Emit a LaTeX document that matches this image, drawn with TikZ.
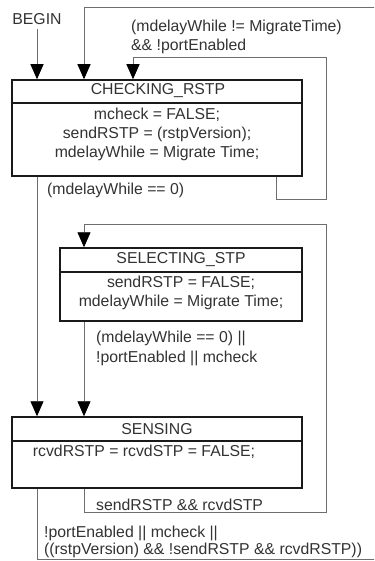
\documentclass[tikz,border=0pt]{standalone}
\usepackage{fontspec}
\setmainfont{Liberation Sans}
\usetikzlibrary{arrows.meta}
\definecolor{txtc}{HTML}{333333}
\definecolor{linec}{HTML}{6E6E6E}
\definecolor{boxc}{HTML}{1A1A1A}
\begin{document}
\begin{tikzpicture}[x=1pt,y=-1pt,
  every node/.style={font=\fontsize{15.8}{19}\selectfont, text=txtc},
  statebox/.style={draw=boxc, line width=1.5pt, inner sep=0pt, rectangle},
  divider/.style={draw=boxc, line width=1.5pt},
  txt/.style={inner sep=0pt},
  lbl/.style={inner sep=0pt, anchor=west, align=left},
  conn/.style={draw=linec, line width=0.9pt},
  arr/.style={conn, -{Triangle[width=13pt,length=15pt,color=black]}}]
\useasboundingbox (0,0) rectangle (374,561);
\clip (0,0) rectangle (374,561);
\fill[white] (0,0) rectangle (374,561);

% columns and rows for the connector routes
\coordinate (colA) at (37,0);
\coordinate (colB) at (84,0);
\coordinate (colC) at (133,0);
\coordinate (colD) at (276,0);
\coordinate (colR) at (326,0);
\coordinate (colOut) at (390,0);
\coordinate (rowTop) at (0,7);
\coordinate (rowIn) at (0,57);
\coordinate (rowLoop) at (0,199);
\coordinate (rowSel) at (0,224);
\coordinate (rowSen) at (0,512);
\coordinate (rowBot) at (0,559);

% states
\node[statebox, minimum width=290pt, minimum height=96pt] (chk) at (157,128) {};
\draw[divider] (chk.west |- 0,103) -- (chk.east |- 0,103);
\node[txt] (chkT) at (158,91) {CHECKING\_RSTP};
\node[txt, align=center] (chkB) at (157,134) {mcheck = FALSE;\\sendRSTP = (rstpVersion);\\mdelayWhile = Migrate Time;};

\node[statebox, minimum width=242pt, minimum height=73pt] (sel) at (181,284.5) {};
\draw[divider] (sel.west |- 0,272) -- (sel.east |- 0,272);
\node[txt] (selT) at (181,260) {SELECTING\_STP};
\node[txt, align=center] (selB) at (181,292.5) {sendRSTP = FALSE;\\mdelayWhile = Migrate Time;};

\node[statebox, minimum width=290pt, minimum height=71pt] (sen) at (157,452.5) {};
\draw[divider] (sen.west |- 0,441) -- (sen.east |- 0,441);
\node[txt] (senT) at (157,429) {SENSING};
\node[txt] (senB) at (144,452) {rcvdRSTP = rcvdSTP = FALSE;};

% labels
\node[txt] (begin) at (37,19) {BEGIN};
\node[lbl] (lab1) at (131,37) {(mdelayWhile != MigrateTime)\\\&\& !portEnabled};
\node[lbl] (lab2) at (47,190) {(mdelayWhile == 0)};
\node[lbl, font=\fontsize{15.8}{20}\selectfont] (lab3) at (96,348) {(mdelayWhile == 0) ||\\!portEnabled || mcheck};
\node[lbl] (lab4) at (96,505) {sendRSTP \&\& rcvdSTP};
\node[lbl, font=\fontsize{15.8}{16.5}\selectfont] (lab5) at (44,542) {!portEnabled || mcheck ||\\((rstpVersion) \&\& !sendRSTP \&\& rcvdRSTP))};

% transitions
\draw[arr] ([yshift=-4pt]begin.south) -- (chk.north -| begin.south);
\draw[arr] (sen.south -| colA) -- (colA |- rowBot) -- (colOut |- rowBot) -- (colOut |- rowTop) -- (colB |- rowTop) -- (chk.north -| colB);
\draw[arr] (chk.south -| colD) -- (colD |- rowLoop) -- (colR |- rowLoop) -- (colR |- rowIn) -- (colC |- rowIn) -- (chk.north -| colC);
\draw[arr] (chk.south -| colA) -- (sen.north -| colA);
\draw[arr] (sen.south -| colB) -- (colB |- rowSen) -- (colR |- rowSen) -- (colR |- rowSel) -- (colB |- rowSel) -- (sel.north -| colB);
\draw[arr] (sel.south -| colB) -- (sen.north -| colB);
\end{tikzpicture}
\end{document}
